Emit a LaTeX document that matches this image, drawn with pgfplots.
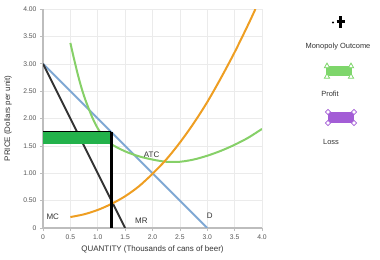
\documentclass[border=0pt]{standalone}
\usepackage{pgfplots}
\pgfplotsset{compat=1.18}
\usepackage{fontspec}
\setmainfont{Liberation Sans}

\definecolor{dblue}{HTML}{7FA8D4}
\definecolor{mrblack}{HTML}{333333}
\definecolor{mcorange}{HTML}{EE9E22}
\definecolor{atcgreen}{HTML}{86D068}
\definecolor{profitgreen}{HTML}{23B24B}
\definecolor{iconyellowgreen}{HTML}{7ED66B}
\definecolor{losspurple}{HTML}{A35DD6}
\definecolor{axisgray}{HTML}{BDBDBD}
\definecolor{gridgray}{HTML}{EBEBEB}
\definecolor{ticktext}{HTML}{555555}
\definecolor{labeltext}{HTML}{333333}

\begin{document}
\begin{tikzpicture}
\path[use as bounding box] (0,0) rectangle (380bp,260bp);
\begin{axis}[
  at={(43bp,32bp)}, anchor=south west,
  width=219bp, height=219bp, scale only axis,
  xmin=0, xmax=4, ymin=0, ymax=4,
  axis lines=left,
  axis line style={draw=axisgray, line width=1.5bp, -},
  grid=major,
  grid style={draw=gridgray, line width=0.5bp},
  xtick={0,0.5,1,1.5,2,2.5,3,3.5,4},
  xticklabels={0,0.5,1.0,1.5,2.0,2.5,3.0,3.5,4.0},
  ytick={0,0.5,1,1.5,2,2.5,3,3.5,4},
  yticklabels={0,0.50,1.00,1.50,2.00,2.50,3.00,3.50,4.00},
  tick align=outside,
  major tick length=3bp,
  tick style={draw=axisgray, line width=0.6bp},
  tick label style={font=\fontsize{6.8}{7}\selectfont, text=ticktext},
  xlabel={QUANTITY (Thousands of cans of beer)},
  ylabel={PRICE (Dollars per unit)},
  every axis x label/.style={at={(axis description cs:0.5,-0.096)}, anchor=center},
  every axis y label/.style={at={(axis description cs:-0.160,0.5)}, rotate=90, anchor=center},
  label style={font=\fontsize{8}{9}\selectfont, text=labeltext},
]
% demand
\addplot[dblue, line width=2bp] coordinates {(0,3) (3,0)};
% marginal revenue
\addplot[mrblack, line width=1.8bp] coordinates {(0,3) (1.5,0)};
% average total cost
\addplot[atcgreen, line width=2bp, smooth] coordinates {
  (0.5,3.38) (0.55,3.16) (0.6,2.95) (0.65,2.75) (0.7,2.57) (0.75,2.41)
  (0.8,2.27) (0.9,2.02) (1.0,1.82) (1.1,1.67) (1.25,1.53) (1.5,1.40)
  (1.75,1.31) (2.0,1.25) (2.25,1.21) (2.5,1.21) (2.75,1.25) (3.0,1.32)
  (3.25,1.41) (3.5,1.52) (3.75,1.65) (4.0,1.81)};
% marginal cost
\addplot[mcorange, line width=2bp, smooth] coordinates {
  (0.5,0.20) (0.75,0.25) (1.0,0.33) (1.25,0.44) (1.5,0.58) (1.75,0.76)
  (2.0,0.99) (2.25,1.25) (2.5,1.56) (2.75,1.91) (3.0,2.30) (3.25,2.74)
  (3.5,3.21) (3.75,3.72) (3.88,4.00)};
% profit area
\addplot[fill=profitgreen, draw=none] coordinates {
  (0,1.53) (1.25,1.53) (1.25,1.76) (0,1.76)} -- cycle;
% monopoly outcome
\addplot[black, line width=1bp] coordinates {(0,1.76) (1.25,1.76)};
\addplot[black, line width=2.2bp] coordinates {(1.25,0) (1.25,1.76)};

\node[anchor=west, font=\fontsize{8}{9}\selectfont, text=labeltext] at (axis cs:0.0,0.20) {MC};
\node[anchor=west, font=\fontsize{8}{9}\selectfont, text=labeltext] at (axis cs:1.62,0.13) {MR};
\node[anchor=west, font=\fontsize{8}{9}\selectfont, text=labeltext] at (axis cs:2.93,0.22) {D};
\node[anchor=west, font=\fontsize{8}{9}\selectfont, text=labeltext] at (axis cs:1.78,1.33) {ATC};
\end{axis}

% legend
\begin{scope}[x=1bp, y=1bp, font=\fontsize{7.5}{9}\selectfont]
  % monopoly outcome symbol
  \fill[black] (333,237.5) circle (1.1);
  \draw[black, line width=2.4bp] (336.5,238.5) -- (344.5,238.5);
  \draw[black, line width=2.4bp] (340.5,243.5) -- (340.5,232);
  \node[text=labeltext] at (338,213.5) {Monopoly Outcome};
  % profit symbol
  \fill[iconyellowgreen] (326,184) rectangle (352,194);
  \foreach \cx/\cy in {327/194.5, 351/194.5, 327/184, 351/184} {
    \draw[iconyellowgreen, fill=white, line width=0.8bp]
      (\cx-2.6,\cy-2.2) -- (\cx+2.6,\cy-2.2) -- (\cx,\cy+2.4) -- cycle;
  }
  \node[text=labeltext] at (330,166) {Profit};
  % loss symbol
  \fill[losspurple] (328,137) rectangle (354,148);
  \foreach \cx/\cy in {328/148, 354/148, 328/137, 354/137} {
    \draw[losspurple, fill=white, line width=0.8bp]
      (\cx-2.6,\cy) -- (\cx,\cy+2.6) -- (\cx+2.6,\cy) -- (\cx,\cy-2.6) -- cycle;
  }
  \node[text=labeltext] at (331,118.5) {Loss};
\end{scope}
\end{tikzpicture}
\end{document}
